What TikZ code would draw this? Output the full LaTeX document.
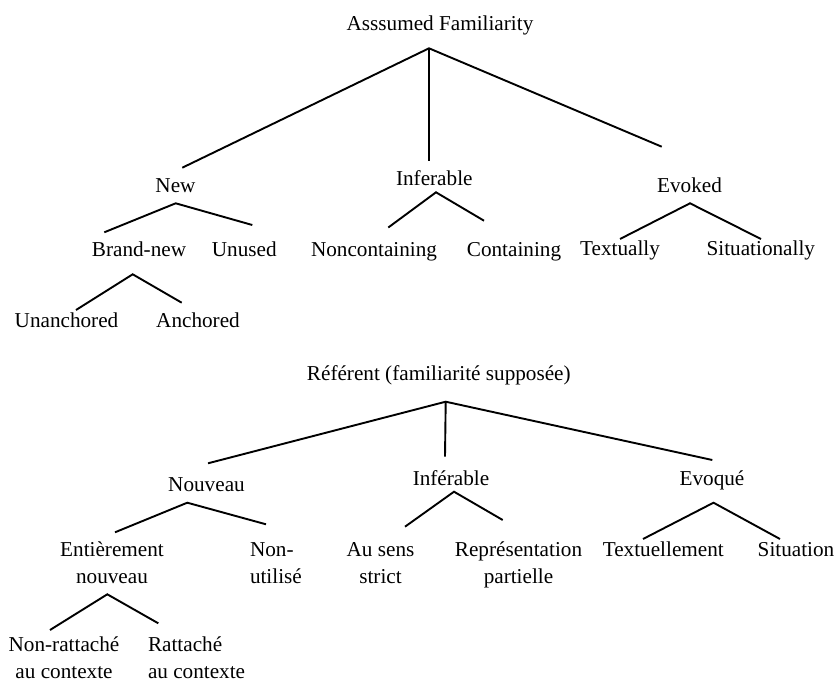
\documentclass[tikz,border=0pt]{standalone}
\usepackage{fontspec}
\setmainfont{Liberation Serif}
\begin{document}
\begin{tikzpicture}[x=1pt,y=-1pt,
  lbl/.style={inner sep=0pt,outer sep=0pt,anchor=base,align=center,
    font=\fontsize{21.2}{26.6}\selectfont},
  lbll/.style={lbl,anchor=base west,align=left},
  arm/.style={line width=1.9pt,line cap=butt,line join=miter}]
\useasboundingbox (0,0) rectangle (838,682);
\fill[white] (0,0) rectangle (838,682);
% ---------- top tree ----------
\node[lbl] (af) at (440,30.7) {Asssumed Familiarity};
\node[lbl] (new) at (175.5,192.7) {New};
\node[lbl] (inf) at (434.3,185.7) {Inferable};
\node[lbl] (evk) at (689.5,192.7) {Evoked};
\node[lbl] (brn) at (139,256.5) {Brand-new};
\node[lbl] (unu) at (244.3,256.5) {Unused};
\node[lbl] (nonc) at (374,256.5) {Noncontaining};
\node[lbl] (cont) at (514,256.5) {Containing};
\node[lbl] (txt) at (620,255) {Textually};
\node[lbl] (sit) at (760.8,255) {Situationally};
\node[lbl] (unan) at (66.5,327.7) {Unanchored};
\node[lbl] (anch) at (198,327.7) {Anchored};
\coordinate (afJ) at (429,48.3);
\coordinate (afL) at (182.3,167.7);
\coordinate (afM) at (429,161);
\coordinate (afR) at (661.7,146.7);
\coordinate (newJ) at (175.7,203.3);
\coordinate (newL) at (104.3,232.3);
\coordinate (newR) at (252.3,225);
\coordinate (infJ) at (436,192.3);
\coordinate (infL) at (388.3,227.5);
\coordinate (infR) at (484,220.7);
\coordinate (evkJ) at (690,203.3);
\coordinate (evkL) at (620,239);
\coordinate (evkR) at (761,239);
\coordinate (brnJ) at (132.7,274.3);
\coordinate (brnL) at (76,310);
\coordinate (brnR) at (181.7,302.7);
\draw[arm] (afL) -- (afJ) -- (afR);
\draw[arm] (afJ) -- (afM);
\draw[arm] (newL) -- (newJ) -- (newR);
\draw[arm] (infL) -- (infJ) -- (infR);
\draw[arm] (evkL) -- (evkJ) -- (evkR);
\draw[arm] (brnL) -- (brnJ) -- (brnR);
% ---------- bottom tree ----------
\node[lbl] (ref) at (438.8,380) {Référent (familiarité supposée)};
\node[lbl] (nou) at (206.5,491.7) {Nouveau};
\node[lbl] (infb) at (451,485) {Inférable};
\node[lbl] (evo) at (712,485) {Evoqué};
\node[lbl] (ent) at (112,583.3) {Entièrement\\nouveau};
\node[lbll] (nut) at (250,583.3) {Non-\\utilisé};
\node[lbl] (aus) at (380.5,583.3) {Au sens\\strict};
\node[lbl] (rep) at (518.5,583.3) {Représentation\\partielle};
\node[lbl] (txtb) at (663.3,556) {Textuellement};
\node[lbl] (sitb) at (796,556) {Situation};
\node[lbl] (nrat) at (64,678.3) {Non-rattaché\\au contexte};
\node[lbll] (rat) at (148,678.3) {Rattaché\\au contexte};
\coordinate (refJ) at (445.7,401.7);
\coordinate (refL) at (208,463.3);
\coordinate (refM) at (445,456.7);
\coordinate (refR) at (712.3,460);
\coordinate (nouJ) at (187.3,502.7);
\coordinate (nouL) at (115,532.3);
\coordinate (nouR) at (266,524.3);
\coordinate (infbJ) at (454,491.7);
\coordinate (infbL) at (405,526.7);
\coordinate (infbR) at (502.7,520);
\coordinate (evoJ) at (713.5,502.7);
\coordinate (evoL) at (643,539);
\coordinate (evoR) at (780,539);
\coordinate (entJ) at (107.3,594.3);
\coordinate (entL) at (50,630);
\coordinate (entR) at (158.3,623.3);
\draw[arm] (refL) -- (refJ) -- (refR);
\draw[arm] (refJ) -- (refM);
\draw[arm] (nouL) -- (nouJ) -- (nouR);
\draw[arm] (infbL) -- (infbJ) -- (infbR);
\draw[arm] (evoL) -- (evoJ) -- (evoR);
\draw[arm] (entL) -- (entJ) -- (entR);
\end{tikzpicture}
\end{document}
